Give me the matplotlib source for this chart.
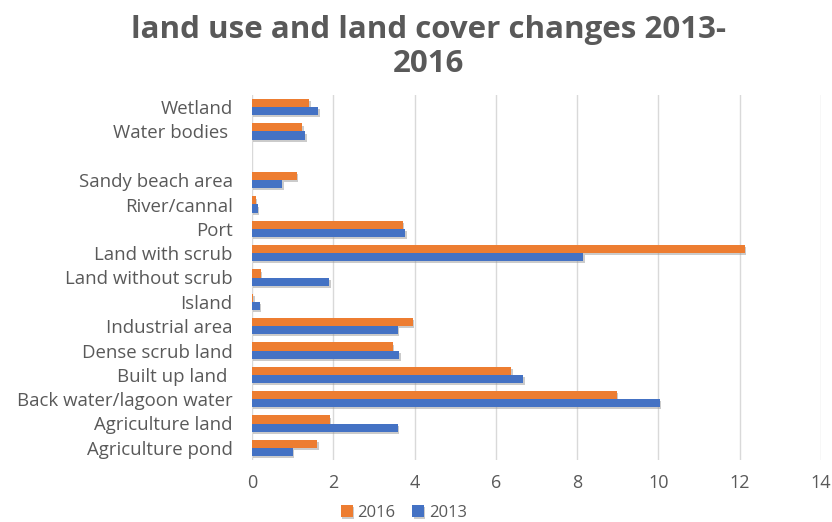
import numpy as np
import matplotlib.pyplot as plt
import matplotlib.patheffects as pe

# categories from bottom to top (blank slot kept as in the source chart)
categories = ["Agriculture pond", "Agriculture land", "Back water/lagoon water",
              "Built up land ", "Dense scrub land", "Industrial area", "Island",
              "Land without scrub", "Land with scrub", "Port", "River/cannal",
              "Sandy beach area", "", "Water bodies ", "Wetland"]
vals_2016 = [1.61, 1.92, 8.97, 6.38, 3.46, 3.96, 0.03, 0.22, 12.12, 3.71, 0.10, 1.10, np.nan, 1.24, 1.41]
vals_2013 = [1.00, 3.58, 10.03, 6.68, 3.62, 3.58, 0.19, 1.90, 8.15, 3.77, 0.14, 0.75, np.nan, 1.31, 1.63]

ORANGE = "#ED7D31"
BLUE = "#4472C4"
GREY = "#595959"

plt.rcParams['font.family'] = ['Open Sans', 'DejaVu Sans']

fig = plt.figure(figsize=(8.32, 5.22), dpi=100)
ax = fig.add_axes([252 / 832, 1 - 460 / 522, (821 - 252) / 832, (460 - 95) / 522])

y = np.arange(len(categories))
h = 0.33
shadow = [pe.SimplePatchShadow(offset=(1, -1.5), shadow_rgbFace='#999999', alpha=0.5), pe.Normal()]
b1 = ax.barh(y + h / 2, vals_2016, height=h, color=ORANGE, label="2016", zorder=3)
b2 = ax.barh(y - h / 2, vals_2013, height=h, color=BLUE, label="2013", zorder=3)
for bars in (b1, b2):
    for p in bars:
        p.set_path_effects(shadow)

ax.set_xlim(0, 14)
ax.set_ylim(-0.5, len(categories) - 0.5)
ax.set_xticks(range(0, 15, 2))
ax.set_yticks(y)
ax.set_yticklabels(categories, fontsize=13.4)
ax.tick_params(axis='both', length=0, colors=GREY)
ax.tick_params(axis='x', labelsize=13, pad=10)
ax.tick_params(axis='y', pad=14)
ax.grid(axis='x', color='#D9D9D9', linewidth=1, zorder=0)
for s in ax.spines.values():
    s.set_visible(False)

fig.text(0.515, 1 - 47 / 522, "land use and land cover changes 2013-\n2016", ha='center', va='center',
         fontsize=22.5, fontweight='bold', color=GREY, linespacing=1.15)

fig.legend(handles=[b1, b2], loc='center', bbox_to_anchor=(404 / 832, 1 - 513 / 522), ncol=2, frameon=False,
           fontsize=12, labelcolor=GREY, handlelength=0.7, handleheight=0.7, handletextpad=0.3,
           columnspacing=1.0)

fig.savefig("out.png", dpi=100)
